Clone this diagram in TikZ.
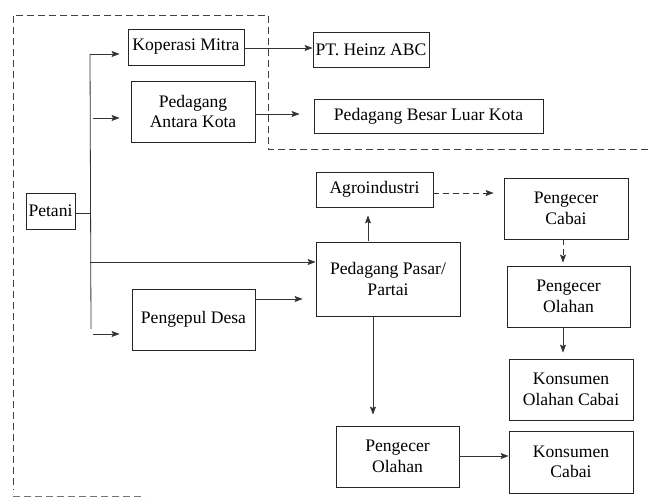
\documentclass[tikz,border=0pt]{standalone}
\usepackage{fontspec}
\setmainfont{Liberation Serif}
\usetikzlibrary{arrows.meta,calc}
\begin{document}
\begin{tikzpicture}[x=1pt,y=-1pt,
  box/.style={draw=black!85,line width=0.8pt,inner sep=0pt,align=center,
    font=\rmfamily\fontsize{17.6}{20.5}\selectfont},
  arr/.style={draw=black!80,line width=0.8pt,-{Stealth[length=8pt,width=6pt,inset=1.5pt]}},
  ln/.style={draw=black!80,line width=0.8pt},
  border/.style={draw=black!75,line width=0.8pt,dash pattern=on 7pt off 4pt}]
\useasboundingbox (0,0) rectangle (648,498);
% dashed boundary
\draw[border] (648,149) -- (268,149) -- (268,15) -- (13,15) -- (13,490);
\draw[border,black!55] (13,496) -- (145,496);
% nodes
\node[box,minimum width=49pt,minimum height=36pt] (pet) at (50.5,211) {Petani};
\node[box,minimum width=116pt,minimum height=36pt] (kop) at (186,47) {Koperasi Mitra};
\node[box,minimum width=124pt,minimum height=61pt] (pak) at (193,111.5) {Pedagang\\Antara Kota};
\node[box,minimum width=116pt,minimum height=35pt] (pt) at (371,49.5) {PT. Heinz ABC};
\node[box,minimum width=229pt,minimum height=34pt] (pbl) at (428.5,116) {Pedagang Besar Luar Kota};
\node[box,minimum width=117pt,minimum height=35pt] (agro) at (374.5,189.5) {Agroindustri};
\node[box,minimum width=144pt,minimum height=74pt] (pasar) at (388,279) {Pedagang Pasar/\\Partai};
\node[box,minimum width=123pt,minimum height=61pt] (peng) at (193.5,319.5) {Pengepul Desa};
\node[box,minimum width=124pt,minimum height=61pt] (pc) at (566,208.5) {Pengecer\\Cabai};
\node[box,minimum width=123pt,minimum height=61pt] (po) at (568.5,296.5) {Pengecer\\Olahan};
\node[box,minimum width=124pt,minimum height=61pt] (koc) at (571,389.5) {Konsumen\\Olahan Cabai};
\node[box,minimum width=123pt,minimum height=61pt] (po2) at (397.5,456.5) {Pengecer\\Olahan};
\node[box,minimum width=124pt,minimum height=62pt] (kc) at (571,462) {Konsumen\\Cabai};
% trunk coordinates
\coordinate (ttop) at (90,54);
\coordinate (tbot) at (91,329);
\coordinate (tpet) at (90,213);
\coordinate (a2) at (93,118);
\coordinate (a3) at (90,262);
\coordinate (a4) at (93,334);
\coordinate (a5) at (255,299);
\coordinate (a6) at (368,241);
\coordinate (a7) at (373,316);
\coordinate (a8) at (433,193);
\coordinate (a9) at (563,239);
\coordinate (a10) at (563,327);
% connectors
\draw[ln] (pet.east |- tpet) -- (tpet);
\draw[ln] (ttop) -- (tbot);
\draw[arr,shorten >=8pt] (ttop) -- (ttop -| kop.west);
\draw[arr,shorten >=11pt] (a2) -- (a2 -| pak.west);
\draw[arr] (a3) -- (a3 -| pasar.west);
\draw[arr,shorten >=12pt] (a4) -- (a4 -| peng.west);
\draw[arr,shorten >=13pt] (a5) -- (a5 -| pasar.west);
\draw[arr] (kop.east |- 0,48) -- (pt.west |- 0,48);
\draw[arr,shorten >=14pt] (pak.east |- 0,114) -- (pbl.west |- 0,114);
\draw[arr,shorten >=8pt] (a6) -- (a6 |- agro.south);
\draw[arr,dash pattern=on 6pt off 4pt,shorten >=10pt] (a8) -- (a8 -| pc.west);
\draw[arr,dash pattern=on 6pt off 4pt,shorten >=3pt] (a9) -- (a9 |- po.north);
\draw[arr,shorten >=6pt] (a10) -- (a10 |- koc.north);
\draw[arr,shorten >=11pt] (a7) -- (a7 |- po2.north);
\draw[arr] (po2.east |- 0,456) -- (kc.west |- 0,456);
\end{tikzpicture}
\end{document}
